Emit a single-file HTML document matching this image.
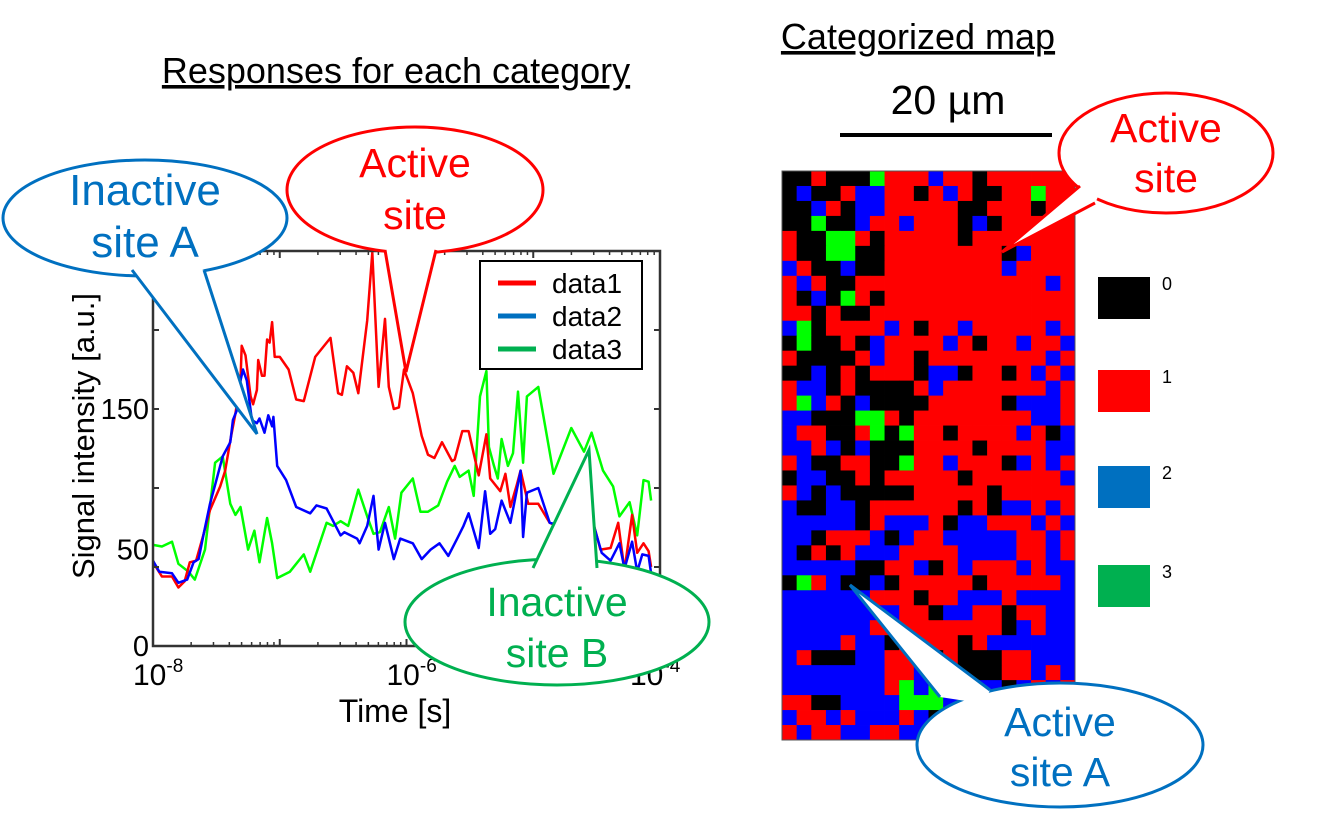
<!DOCTYPE html>
<html><head><meta charset="utf-8"><style>
html,body{margin:0;padding:0;background:#fff;}
svg{display:block;font-family:"Liberation Sans",Arial,sans-serif;}
</style></head><body>
<svg id="fig" width="1319" height="821" viewBox="0 0 1319 821">
<g id="map"></g>
<g id="chart"></g>
<g id="overlay"></g>
</svg>
<script>
// ---- line chart data (x = log10 time [s], y = signal intensity) ----
const redX=[-8,-7.93,-7.85,-7.80,-7.75,-7.71,-7.66,-7.60,-7.55,-7.47,-7.43,-7.39,-7.35,-7.31,-7.30,-7.27,-7.23,-7.21,-7.18,-7.17,-7.14,-7.12,-7.10,-7.08,-7.06,-7.04,-7.00,-6.93,-6.87,-6.81,-6.72,-6.60,-6.54,-6.51,-6.47,-6.42,-6.38,-6.31,-6.27,-6.22,-6.17,-6.14,-6.10,-6.06,-6.02,-5.95,-5.88,-5.83,-5.78,-5.72,-5.64,-5.62,-5.56,-5.51,-5.43,-5.37,-5.34,-5.26,-5.22,-5.18,-5.13,-5.10,-5.04,-4.96,-4.87,-4.71,-4.54,-4.47,-4.39,-4.33,-4.28,-4.22,-4.18,-4.13,-4.09,-4.07];
const redY=[53,44,44,37,41,53,54,71,86,101,111,130,147,168,190,184,158,153,162,181,171,171,194,192,205,183,183,175,156,155,183,195,160,159,177,173,160,206,249,164,207,164,150,151,175,160,133,121,119,129,117,118,136,136,108,134,106,98,109,88,102,111,90,90,78,72,82,61,62,78,48,83,59,65,60,50];
const blueX=[-8,-7.95,-7.85,-7.80,-7.73,-7.68,-7.64,-7.60,-7.55,-7.50,-7.45,-7.39,-7.37,-7.34,-7.31,-7.29,-7.26,-7.22,-7.18,-7.16,-7.12,-7.09,-7.06,-7.05,-7.02,-6.95,-6.87,-6.76,-6.71,-6.63,-6.52,-6.49,-6.39,-6.37,-6.31,-6.26,-6.22,-6.17,-6.10,-6.05,-5.95,-5.88,-5.81,-5.74,-5.67,-5.60,-5.55,-5.51,-5.43,-5.38,-5.34,-5.30,-5.25,-5.18,-5.10,-5.08,-5.05,-4.96,-4.87,-4.71,-4.54,-4.46,-4.39,-4.32,-4.28,-4.22,-4.18,-4.14,-4.09,-4.07];
const blueY=[54,47,46,40,42,53,55,71,90,105,120,129,143,149,168,175,168,143,141,144,135,146,139,145,114,105,88,84,89,87,70,72,68,65,76,95,61,78,55,68,65,55,61,65,57,68,76,84,62,98,71,74,92,78,111,69,97,100,78,75,81,59,54,65,49,66,47,58,57,46];
const greenX=[-8,-7.93,-7.85,-7.80,-7.72,-7.67,-7.59,-7.51,-7.45,-7.39,-7.35,-7.31,-7.25,-7.20,-7.16,-7.10,-7.06,-7.02,-6.92,-6.81,-6.76,-6.63,-6.58,-6.52,-6.46,-6.38,-6.31,-6.26,-6.21,-6.14,-6.09,-6.04,-5.95,-5.89,-5.83,-5.75,-5.68,-5.62,-5.58,-5.51,-5.47,-5.42,-5.37,-5.35,-5.31,-5.28,-5.25,-5.20,-5.16,-5.12,-5.08,-5.05,-4.96,-4.84,-4.70,-4.60,-4.54,-4.45,-4.37,-4.32,-4.24,-4.18,-4.13,-4.09,-4.07];
const greenY=[64,63,66,52,47,42,61,116,120,90,83,88,61,73,53,81,65,43,47,58,47,78,76,79,76,99,82,71,72,88,68,97,106,85,85,89,104,114,107,111,95,158,174,126,114,106,131,114,122,161,116,158,164,109,138,123,135,111,101,82,91,70,105,104,92];
const seriesNames=["data1","data2","data3"];
const yTickValues=[0,50,100,150,200,250];
const yLabelValues=[0,61,150];
const yLabelTexts=["0","50","150"];
const xDecades=[-8,-7,-6,-5,-4];
const xLabelDecades=[-8,-6,-4];
const xLabelExps=["-8","-6","-4"];

// ---- categorized map data (0 black, 1 red, 2 blue, 3 green) ----
const mapRows=[
"00100031112110111111","02001221101210011311","00210221111100111011","00300211211102011111",
"10033101111101111111","10033001111111102111","21002001111111121111","12100111111111111121",
"10203101111111111111","11010011111111111111","23011112101121111121","03001021111210112112",
"10000121101111111121","00201011102201101212","12201000012111111121","13210200001111102221",
"22000331011111111221","21100130311011112102","22120200011110111122","12001100311211102121",
"02200101111101111112","12020000011111011111","20022011111101022121","22222012221022111212",
"22011120211222221121","20101222111122221121","22222001120121112122","03120020111110111112",
"22222211101122212222","22222222110221101122","22222211111111102122","22221220111101222222",
"21000221110100011222","22222221123200011212","22222221323122202121","11002222333210111102",
"21121222120021101112","12112211222200111122"];
const catLabels=["0","1","2","3"];

const NS="http://www.w3.org/2000/svg";
function mk(tag,attrs,parent){const e=document.createElementNS(NS,tag);for(const k in attrs)e.setAttribute(k,attrs[k]);parent.appendChild(e);return e;}

const X0=153,X1=660,Y0=646,Y1=251;
const sx=v=>X0+(v-(-8))/4*(X1-X0);
const sy=v=>Y0-v/250*(Y0-Y1);

const chart=document.getElementById('chart');
const sData=[[redX,redY,"#ff0000"],[blueX,blueY,"#0000ff"],[greenX,greenY,"#00ff00"]];
[2,0,1].forEach(i=>{
  const [xs,ys,c]=sData[i];
  const pts=xs.map((x,j)=>sx(x).toFixed(1)+","+sy(ys[j]).toFixed(1)).join(" ");
  const p=mk('polyline',{points:pts,fill:"none",stroke:c,"stroke-width":2.5,"stroke-linejoin":"round"},chart);
  
  
});
const fr=mk('rect',{x:X0,y:Y1,width:X1-X0,height:Y0-Y1,fill:"none",stroke:"#333","stroke-width":2.5},chart);


yTickValues.forEach(v=>{
  const t=mk('path',{d:`M${X0},${sy(v)}h6M${X1},${sy(v)}h-6`,stroke:"#333","stroke-width":2},chart);
  
  
});
yLabelValues.forEach((v,i)=>{
  const t=mk('text',{x:X0-4,y:sy(v)+10,"text-anchor":"end","font-size":29},chart);
  t.textContent=yLabelTexts[i];
  
  
});
xDecades.forEach(d=>{
  const mt=mk('path',{d:`M${sx(d)},${Y0}v-7M${sx(d)},${Y1}v7`,stroke:"#333","stroke-width":2},chart);
  
  
  if(d<-4){for(let m=2;m<10;m++){const x=sx(d+Math.log10(m));
    const t=mk('path',{d:`M${x},${Y0}v-4M${x},${Y1}v4`,stroke:"#333","stroke-width":1.5},chart);
    
    }}
});
xLabelDecades.forEach((d,i)=>{
  const t=mk('text',{x:sx(d)-20+(i==2?-10:0),y:685,"font-size":30},chart);
  
  
  t.appendChild(document.createTextNode("10"));
  const s=mk('tspan',{dy:-13,"font-size":19},t);s.textContent=xLabelExps[i];
});
let t=mk('text',{x:395,y:722,"text-anchor":"middle","font-size":32},chart);t.textContent="Time [s]";

t=mk('text',{x:0,y:0,"text-anchor":"middle","font-size":31,transform:"translate(94,436) rotate(-90)"},chart);t.textContent="Signal intensity [a.u.]";

const lg=mk('g',{},chart);

mk('rect',{x:480,y:261,width:162,height:108,fill:"#fff",stroke:"#000","stroke-width":2},lg);
const lc=["#ff0000","#0070c0","#00b050"];
seriesNames.forEach((n,i)=>{
  const yy=283+i*33;
  const ln=mk('line',{x1:498,x2:536,y1:yy,y2:yy,stroke:lc[i],"stroke-width":5},lg);
  
  const tx=mk('text',{x:552,y:yy+10,"font-size":28},lg);tx.textContent=n;
  
});

const map=document.getElementById('map');
const MX=782,MY=171,MW=293,MH=569;
const cols=mapRows[0].length,rows=mapRows.length;
const cw=MW/cols,ch=MH/rows;
const catColors=["#000000","#ff0000","#0000ff","#00ff00"];
mapRows.forEach((r,ri)=>{
  for(let ci=0;ci<cols;ci++){
    const c=mk('rect',{x:(MX+ci*cw).toFixed(2),y:(MY+ri*ch).toFixed(2),width:(cw+0.4).toFixed(2),height:(ch+0.4).toFixed(2),fill:catColors[+r[ci]]},map);
    
    
  }
});
const mf=mk('rect',{x:MX,y:MY,width:MW,height:MH,fill:"none",stroke:"#555","stroke-width":1},map);

const legY=[277,370,466,565],legC=["#000000","#ff0000","#0070c0","#00b050"];
catLabels.forEach((l,i)=>{
  const r=mk('rect',{x:1098,y:legY[i],width:52,height:42,fill:legC[i]},map);
  
  const tx=mk('text',{x:1162,y:legY[i]+13,"font-size":18},map);tx.textContent=l;
  
});

const ov=document.getElementById('overlay');
function bubble(name,cx,cy,rx,ry,tail,color,lines,ly,fs){
  const g=mk('g',{},ov);
  
  
  mk('ellipse',{cx,cy,rx,ry,fill:"#fff",stroke:color,"stroke-width":3},g);
  const [a,b,c]=tail;
  const mx=(a[0]+c[0])/2,my=(a[1]+c[1])/2;
  const ix=cx+(mx-cx)*0.8,iy=cy+(my-cy)*0.8;
  mk('polygon',{points:`${a[0]},${a[1]} ${b[0]},${b[1]} ${c[0]},${c[1]} ${ix},${iy}`,fill:"#fff",stroke:"none"},g);
  mk('polyline',{points:`${a[0]},${a[1]} ${b[0]},${b[1]} ${c[0]},${c[1]}`,fill:"none",stroke:color,"stroke-width":3,"stroke-linejoin":"miter"},g);
  lines.forEach((s,i)=>{const tx=mk('text',{x:cx,y:ly[i],"text-anchor":"middle","font-size":fs,fill:color},g);tx.textContent=s;});
}
bubble('bubble-inactive-site-a',145,218,142,58,[[132,270],[257,434],[204,270]],"#0070c0",["Inactive","site A"],[205,257],44);
bubble('bubble-active-site-left',415,190,128,63,[[385,250],[406,372],[436,250]],"#ff0000",["Active","site"],[177,229],41);
bubble('bubble-inactive-site-b',557,622,152,63,[[533,568],[589,450],[597,568]],"#00b050",["Inactive","site B"],[616,667],41);
bubble('bubble-active-site-right',1166,153,107,60,[[1080,186],[1002,252],[1095,203]],"#ff0000",["Active","site"],[142,192],41);
bubble('bubble-active-site-a',1060,745,143,62,[[990,690],[850,585],[940,697]],"#0070c0",["Active","site A"],[736,786],41);

t=mk('text',{x:396,y:83,"text-anchor":"middle","font-size":36,"text-decoration":"underline"},ov);t.textContent="Responses for each category";

t=mk('text',{x:918,y:49,"text-anchor":"middle","font-size":36,"text-decoration":"underline"},ov);t.textContent="Categorized map";

t=mk('text',{x:948,y:114,"text-anchor":"middle","font-size":41},ov);t.textContent="20 µm";

const sb=mk('line',{x1:840,x2:1052,y1:135,y2:135,stroke:"#000","stroke-width":4},ov);

</script>
</body></html>
